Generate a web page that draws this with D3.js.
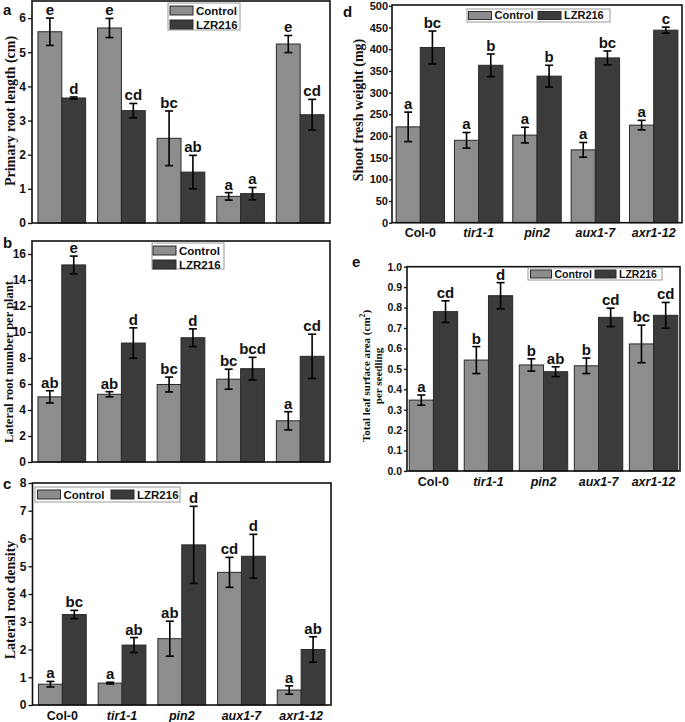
<!DOCTYPE html>
<html><head><meta charset="utf-8">
<script src="https://cdn.jsdelivr.net/npm/d3@7"></script>
<style>body{margin:0;background:#fff}svg{display:block}</style>
</head><body>
<svg id="chart" width="685" height="722"></svg>
<script>
const categories = ["Col-0","tir1-1","pin2","aux1-7","axr1-12"];
const seriesNames = ["Control","LZR216"];

// a: Primary root length (cm)
const aControl = [5.6,5.71,2.48,0.78,5.24];
const aControlErr = [0.4,0.28,0.8,0.11,0.25];
const aLZR = [3.66,3.29,1.49,0.86,3.17];
const aLZRErr = [0.03,0.21,0.49,0.18,0.45];
const aControlLetters = ["e","e","bc","a","e"];
const aLZRLetters = ["d","cd","ab","a","cd"];
const aTicks = [0,1,2,3,4,5,6];

// b: Lateral root number per plant
const bControl = [5.01,5.21,5.96,6.37,3.17];
const bControlErr = [0.47,0.2,0.57,0.77,0.7];
const bLZR = [15.16,9.15,9.56,7.18,8.13];
const bLZRErr = [0.68,1.17,0.68,0.87,1.7];
const bControlLetters = ["ab","ab","bc","bc","a"];
const bLZRLetters = ["e","d","d","bcd","cd"];
const bTicks = [0,2,4,6,8,10,12,14,16];

// c: Lateral root density
const cControl = [0.75,0.79,2.39,4.78,0.54];
const cControlErr = [0.1,0.03,0.63,0.54,0.15];
const cLZR = [3.26,2.16,5.77,5.36,2.0];
const cLZRErr = [0.15,0.27,1.39,0.79,0.46];
const cControlLetters = ["a","a","ab","cd","a"];
const cLZRLetters = ["bc","ab","d","d","ab"];
const cTicks = [0,1,2,3,4,5,6,7,8];

// d: Shoot fresh weight (mg)
const dControl = [221,190,202,168,225];
const dControlErr = [34,18,18,17,11];
const dLZR = [404,363,338,380,444];
const dLZRErr = [38,26,25,16,7];
const dControlLetters = ["a","a","a","a","a"];
const dLZRLetters = ["bc","b","b","bc","c"];
const dTicks = [0,50,100,150,200,250,300,350,400,450,500];

// e: Total leaf surface area (cm2) per seedling
const eControl = [0.347,0.543,0.519,0.515,0.622];
const eControlErr = [0.025,0.066,0.03,0.038,0.092];
const eLZR = [0.78,0.858,0.486,0.752,0.762];
const eLZRErr = [0.053,0.064,0.024,0.045,0.063];
const eControlLetters = ["a","b","b","b","bc"];
const eLZRLetters = ["cd","d","ab","cd","cd"];
const eTicks = [0,0.1,0.2,0.3,0.4,0.5,0.6,0.7,0.8,0.9,1.0];

const colors = {Control:"#8d8d8d", LZR216:"#3b3b3b"};
const svg = d3.select("#chart");
const SANS = "Liberation Sans, Arial, sans-serif";
const SERIF = "Liberation Serif, Times New Roman, serif";

function panel(o){
  const g = svg.append("g");
  const x0 = d3.scaleBand().domain(categories).range([o.left,o.right]).paddingInner(o.pi).paddingOuter(o.po);
  const x1 = d3.scaleBand().domain(seriesNames).range([0,x0.bandwidth()]);
  const y = d3.scaleLinear().domain(o.domain).range([o.bottom,o.top]);
  const series = [
    {name:"Control", vals:o.control, errs:o.controlErr, letters:o.controlLetters},
    {name:"LZR216", vals:o.lzr, errs:o.lzrErr, letters:o.lzrLetters}
  ];
  series.forEach(s=>{
    const sg = g.append("g");
    sg.selectAll("rect").data(categories).join("rect")
      .attr("x",(c)=>x0(c)+x1(s.name))
      .attr("y",(c,i)=>y(s.vals[i]))
      .attr("width",x1.bandwidth())
      .attr("height",(c,i)=>y(0)-y(s.vals[i]))
      .attr("fill",colors[s.name]).attr("stroke","#2a2a2a").attr("stroke-width",1);
    const cx = (c)=>x0(c)+x1(s.name)+x1.bandwidth()/2;
    const eb = sg.append("g").attr("stroke","#000").attr("stroke-width",1.6);
    categories.forEach((c,i)=>{
      const t = y(s.vals[i]+s.errs[i]), b = y(s.vals[i]-s.errs[i]);
      eb.append("line").attr("x1",cx(c)).attr("x2",cx(c)).attr("y1",t).attr("y2",b);
      eb.append("line").attr("x1",cx(c)-4).attr("x2",cx(c)+4).attr("y1",t).attr("y2",t);
      eb.append("line").attr("x1",cx(c)-4).attr("x2",cx(c)+4).attr("y1",b).attr("y2",b);
    });
    sg.selectAll("text.sig").data(categories).join("text").attr("class","sig")
      .attr("x",cx).attr("y",(c,i)=>y(s.vals[i]+s.errs[i])-3)
      .attr("text-anchor","middle").attr("font-family",SANS).attr("font-weight","bold")
      .attr("font-size",15).attr("fill","#111").text((c,i)=>s.letters[i]);
  });
  // frame
  g.append("rect").attr("x",o.left).attr("y",o.top).attr("width",o.right-o.left).attr("height",o.bottom-o.top)
    .attr("fill","none").attr("stroke","#111").attr("stroke-width",1.6);
  // y axis
  const ax = d3.axisLeft(y).tickValues(o.ticks).tickSize(o.tickSize||4).tickPadding(o.tickPad||2).tickFormat(o.fmt||d3.format("d"));
  const ag = g.append("g").attr("transform",`translate(${o.left},0)`).call(ax);
  ag.select(".domain").remove();
  ag.selectAll("line").attr("stroke","#111").attr("stroke-width",1.3);
  ag.selectAll("text").attr("font-family",SANS).attr("font-weight","bold").attr("font-size",o.tickFont||12).attr("fill","#111");
  // x labels
  if(o.xlabels){
    g.selectAll("text.cat").data(categories).join("text").attr("class","cat")
      .attr("x",c=>x0(c)+x0.bandwidth()/2).attr("y",o.bottom+o.xlabOff)
      .attr("text-anchor","middle").attr("font-family",SANS).attr("font-weight","bold")
      .attr("font-size",12.5).attr("font-style",(c,i)=>i===0?"normal":"italic").attr("fill","#111").text(c=>c);
  }
  // y title
  o.titles.forEach(t=>{
    const tt = g.append("text").attr("transform",`translate(${t.x},${t.y}) rotate(-90)`)
      .attr("text-anchor","middle").attr("font-family",SERIF).attr("font-weight","bold")
      .attr("font-size",t.size).attr("fill","#111");
    if(t.sup){
      tt.append("tspan").text(t.text);
      tt.append("tspan").attr("dy",-5).attr("font-size",t.size*0.7).text(t.sup);
      tt.append("tspan").attr("dy",5).text(t.after);
    } else tt.text(t.text);
  });
  // panel letter
  g.append("text").attr("x",o.letter.x).attr("y",o.letter.y).attr("font-family",SANS).attr("font-weight","bold")
    .attr("font-size",15).attr("fill","#111").text(o.letter.t);
  // legend
  const L = o.legend;
  const lg = g.append("g");
  lg.append("rect").attr("x",L.x).attr("y",L.y).attr("width",L.w).attr("height",L.h)
    .attr("fill","#fff").attr("stroke","#999").attr("stroke-width",1);
  seriesNames.forEach((n,i)=>{
    const px = L.items[i][0], py = L.items[i][1];
    lg.append("rect").attr("x",px).attr("y",py).attr("width",L.sw).attr("height",L.sh)
      .attr("fill",colors[n]).attr("stroke","#2a2a2a").attr("stroke-width",1);
    lg.append("text").attr("x",px+L.sw+3).attr("y",py+L.sh-0.5).attr("font-family",SANS).attr("font-weight","bold")
      .attr("font-size",L.fs).attr("fill","#111").text(n);
  });
}

panel({left:32,right:330,top:1,bottom:223,pi:0.2,po:0.1,domain:[0,6.5],ticks:aTicks,
  control:aControl,controlErr:aControlErr,lzr:aLZR,lzrErr:aLZRErr,controlLetters:aControlLetters,lzrLetters:aLZRLetters,
  xlabels:false,titles:[{x:15,y:111,size:14,text:"Primary root length (cm)"}],
  letter:{x:3,y:15,t:"a"},
  legend:{x:168,y:3,w:72,h:27,sw:23,sh:9,fs:11.5,items:[[170,6],[170,20]]}});

panel({left:32,right:330,top:241,bottom:462,pi:0.2,po:0.1,domain:[0,17],ticks:bTicks,
  control:bControl,controlErr:bControlErr,lzr:bLZR,lzrErr:bLZRErr,controlLetters:bControlLetters,lzrLetters:bLZRLetters,
  xlabels:false,titles:[{x:13,y:362,size:12.5,text:"Lateral root number per plant"}],
  letter:{x:3,y:248,t:"b"},
  legend:{x:152,y:243,w:72,h:26,sw:23,sh:9,fs:11.5,items:[[153,246],[153,260]]}});

panel({left:32.5,right:331,top:483,bottom:705,pi:0.2,po:0.1,domain:[0,8],ticks:cTicks,
  control:cControl,controlErr:cControlErr,lzr:cLZR,lzrErr:cLZRErr,controlLetters:cControlLetters,lzrLetters:cLZRLetters,
  xlabels:true,xlabOff:15,titles:[{x:15,y:600,size:14,text:"Lateral root density"}],
  letter:{x:3,y:489,t:"c"},
  legend:{x:35,y:487,w:145,h:15,sw:23,sh:9,fs:11.5,items:[[37.5,490],[111,490]]}});

panel({left:392,right:682,top:5,bottom:222.7,pi:0.17,po:0.07,domain:[0,502],ticks:dTicks,
  tickFont:11,tickSize:3,tickPad:1,
  control:dControl,controlErr:dControlErr,lzr:dLZR,lzrErr:dLZRErr,controlLetters:dControlLetters,lzrLetters:dLZRLetters,
  xlabels:true,xlabOff:14,titles:[{x:363,y:110,size:14,text:"Shoot fresh weight (mg)"}],
  letter:{x:343,y:17,t:"d"},
  legend:{x:467,y:9,w:143,h:13,sw:23,sh:8,fs:11,items:[[468.5,11.5],[538,11.5]]}});

panel({left:407,right:680,top:266.7,bottom:471,pi:0.12,po:0.04,domain:[0,1.0],ticks:eTicks,fmt:d3.format(".1f"),
  tickFont:10.5,tickSize:3,tickPad:2,
  control:eControl,controlErr:eControlErr,lzr:eLZR,lzrErr:eLZRErr,controlLetters:eControlLetters,lzrLetters:eLZRLetters,
  xlabels:true,xlabOff:15,titles:[{x:370,y:376,size:11,text:"Total leaf surface area (cm",sup:"2",after:")"},{x:382,y:376,size:11,text:"per seedling"}],
  letter:{x:352,y:267,t:"e"},
  legend:{x:528,y:268,w:134,h:12,sw:21,sh:8,fs:10.5,items:[[530.5,270],[595,270]]}});
</script>
</body></html>
